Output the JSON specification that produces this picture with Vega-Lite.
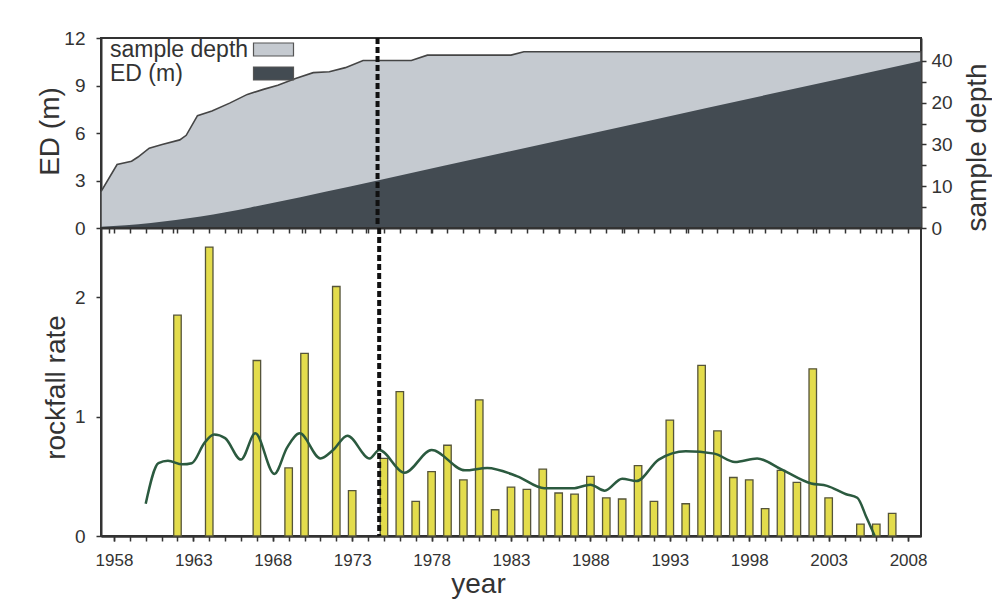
{
  "$schema": "https://vega.github.io/schema/vega-lite/v6.json",
  "padding": {"left": 35, "top": 28, "right": 0, "bottom": 0},
  "background": "white",
  "config": {
    "font": "Liberation Sans",
    "view": {"stroke": "#333333", "strokeWidth": 2},
    "axis": {
      "domainColor": "#333333", "domainWidth": 2,
      "tickColor": "#333333", "tickWidth": 1.5, "tickSize": 5,
      "labelColor": "#333333", "titleColor": "#333333",
      "labelFont": "Liberation Sans", "titleFont": "Liberation Sans",
      "titleFontWeight": "normal", "grid": false,
      "labelFontSize": 19, "titleFontSize": 28
    },
    "legend": {"symbolStrokeColor": "#555555", "symbolStrokeWidth": 1.2}
  },
  "datasets": {
    "depth": [
      {"year": 1957.5, "depth": 8.7}, {"year": 1958.5, "depth": 15.2}, {"year": 1959.4, "depth": 16.0},
      {"year": 1959.8, "depth": 17.0}, {"year": 1960.5, "depth": 19.1}, {"year": 1961.3, "depth": 20.0},
      {"year": 1962.4, "depth": 21.1}, {"year": 1962.8, "depth": 22.2}, {"year": 1963.5, "depth": 26.9},
      {"year": 1964.4, "depth": 28.0}, {"year": 1965.5, "depth": 29.9}, {"year": 1966.6, "depth": 32.0},
      {"year": 1967.6, "depth": 33.2}, {"year": 1968.5, "depth": 34.2}, {"year": 1969.6, "depth": 35.8},
      {"year": 1970.7, "depth": 37.2}, {"year": 1971.7, "depth": 37.4}, {"year": 1972.7, "depth": 38.4},
      {"year": 1973.8, "depth": 40.1}, {"year": 1976.8, "depth": 40.1}, {"year": 1977.8, "depth": 41.4},
      {"year": 1983.0, "depth": 41.4}, {"year": 1983.8, "depth": 42.2}, {"year": 2008.5, "depth": 42.2}
    ],
    "ed": [
      {"year": 1957.5, "ed": 0.08}, {"year": 1960.6, "ed": 0.32}, {"year": 1963.7, "ed": 0.72},
      {"year": 1966.8, "ed": 1.3}, {"year": 1969.9, "ed": 1.95}, {"year": 1973.0, "ed": 2.62},
      {"year": 1974.7, "ed": 3.0}, {"year": 1991.6, "ed": 6.78}, {"year": 2008.5, "ed": 10.55}
    ],
    "marker": [{"year": 1974.7}],
    "rockfall": [
      {"year": 1962, "rate": 1.85}, {"year": 1964, "rate": 2.42}, {"year": 1967, "rate": 1.47},
      {"year": 1969, "rate": 0.57}, {"year": 1970, "rate": 1.53}, {"year": 1972, "rate": 2.09},
      {"year": 1973, "rate": 0.38}, {"year": 1975, "rate": 0.65}, {"year": 1976, "rate": 1.21},
      {"year": 1977, "rate": 0.29}, {"year": 1978, "rate": 0.54}, {"year": 1979, "rate": 0.76},
      {"year": 1980, "rate": 0.47}, {"year": 1981, "rate": 1.14}, {"year": 1982, "rate": 0.22},
      {"year": 1983, "rate": 0.41}, {"year": 1984, "rate": 0.39}, {"year": 1985, "rate": 0.56},
      {"year": 1986, "rate": 0.36}, {"year": 1987, "rate": 0.35}, {"year": 1988, "rate": 0.5},
      {"year": 1989, "rate": 0.32}, {"year": 1990, "rate": 0.31}, {"year": 1991, "rate": 0.59},
      {"year": 1992, "rate": 0.29}, {"year": 1993, "rate": 0.97}, {"year": 1994, "rate": 0.27},
      {"year": 1995, "rate": 1.43}, {"year": 1996, "rate": 0.88}, {"year": 1997, "rate": 0.49},
      {"year": 1998, "rate": 0.47}, {"year": 1999, "rate": 0.23}, {"year": 2000, "rate": 0.55},
      {"year": 2001, "rate": 0.45}, {"year": 2002, "rate": 1.4}, {"year": 2003, "rate": 0.32},
      {"year": 2005, "rate": 0.1}, {"year": 2006, "rate": 0.1}, {"year": 2007, "rate": 0.19}
    ],
    "smooth": [
      {"year": 1960.0, "rate": 0.27}, {"year": 1960.8, "rate": 0.61}, {"year": 1961.4, "rate": 0.63},
      {"year": 1962.3, "rate": 0.6}, {"year": 1962.9, "rate": 0.61}, {"year": 1963.7, "rate": 0.78},
      {"year": 1964.3, "rate": 0.85}, {"year": 1965.0, "rate": 0.82}, {"year": 1966.0, "rate": 0.64},
      {"year": 1966.9, "rate": 0.86}, {"year": 1968.1, "rate": 0.52}, {"year": 1968.9, "rate": 0.74},
      {"year": 1969.7, "rate": 0.86}, {"year": 1971.0, "rate": 0.65}, {"year": 1971.8, "rate": 0.72},
      {"year": 1972.7, "rate": 0.84}, {"year": 1974.1, "rate": 0.65}, {"year": 1974.7, "rate": 0.72},
      {"year": 1976.3, "rate": 0.53}, {"year": 1978.0, "rate": 0.72}, {"year": 1980.1, "rate": 0.55},
      {"year": 1981.5, "rate": 0.57}, {"year": 1983.4, "rate": 0.5}, {"year": 1985.1, "rate": 0.4},
      {"year": 1986.9, "rate": 0.4}, {"year": 1988.0, "rate": 0.43}, {"year": 1988.9, "rate": 0.38},
      {"year": 1990.0, "rate": 0.48}, {"year": 1990.9, "rate": 0.46}, {"year": 1992.3, "rate": 0.64},
      {"year": 1994.0, "rate": 0.71}, {"year": 1995.8, "rate": 0.69}, {"year": 1997.1, "rate": 0.62},
      {"year": 1998.5, "rate": 0.65}, {"year": 2000.0, "rate": 0.56}, {"year": 2001.9, "rate": 0.44},
      {"year": 2002.9, "rate": 0.42}, {"year": 2004.1, "rate": 0.35}, {"year": 2004.8, "rate": 0.32},
      {"year": 2005.4, "rate": 0.15}, {"year": 2005.9, "rate": 0.0}
    ]
  },
  "spacing": 0,
  "bounds": "flush",
  "vconcat": [
    {
      "width": 820,
      "height": 190,
      "layer": [
        {
          "data": {"name": "depth"},
          "mark": {"type": "area", "opacity": 1, "stroke": "#454545", "strokeWidth": 1.6},
          "encoding": {
            "x": {
              "field": "year", "type": "quantitative",
              "scale": {"domain": [1957.5, 2008.5], "nice": false, "zero": false},
              "axis": {
                "values": [1958,1959,1960,1961,1962,1963,1964,1965,1966,1967,1968,1969,1970,1971,1972,1973,1974,1975,1976,1977,1978,1979,1980,1981,1982,1983,1984,1985,1986,1987,1988,1989,1990,1991,1992,1993,1994,1995,1996,1997,1998,1999,2000,2001,2002,2003,2004,2005,2006,2007,2008],
                "labels": false, "title": null
              }
            },
            "y": {
              "field": "depth", "type": "quantitative",
              "scale": {"domain": [0, 45.5], "nice": false},
              "axis": {
                "orient": "right",
                "values": [0, 5, 10, 15, 20, 25, 30, 35, 40],
                "format": "d",
                "labelOverlap": false,
                "labelExpr": "datum.value == 20 ? '30' : datum.value == 30 ? '20' : datum.value % 10 == 0 ? datum.label : ''",
                "labelPadding": 5,
                "title": "sample depth",
                "titleAngle": -90,
                "titleX": 64,
                "titleY": 109,
                "titleAlign": "center",
                "titleBaseline": "alphabetic"
              }
            },
            "color": {
              "datum": "sample depth",
              "scale": {"domain": ["sample depth", "ED (m)"], "range": ["#c5cad0", "#434b52"]},
              "legend": {
                "orient": "none",
                "legendX": 161,
                "legendY": 0,
                "title": null,
                "padding": 0,
                "symbolType": "M-2,-0.65L2,-0.65L2,0.65L-2,0.65Z",
                "symbolSize": 400,
                "symbolOpacity": 1,
                "symbolStrokeColor": "#555555",
                "symbolStrokeWidth": 1.2,
                "labelOffset": -175,
                "labelAlign": "left",
                "labelFontSize": 23,
                "labelColor": "#333333",
                "labelFont": "Liberation Sans",
                "rowPadding": -2,
                "encode": {"symbols": {"update": {"stroke": {"value": "#555555"}, "strokeWidth": {"value": 1.2}}}}
              }
            }
          }
        },
        {
          "data": {"name": "ed"},
          "mark": {"type": "area", "interpolate": "monotone", "opacity": 1},
          "encoding": {
            "x": {"field": "year", "type": "quantitative"},
            "y": {
              "field": "ed", "type": "quantitative",
              "scale": {"domain": [0, 12], "nice": false},
              "axis": {
                "orient": "left",
                "values": [0, 3, 6, 9, 12],
                "format": "d",
                "labelPadding": 11,
                "title": "ED (m)",
                "titleAngle": -90,
                "titleX": -43,
                "titleY": 93,
                "titleAlign": "center",
                "titleBaseline": "alphabetic"
              }
            },
            "color": {"datum": "ED (m)"}
          }
        },
        {
          "data": {"name": "marker"},
          "mark": {"type": "rule", "color": "#111111", "strokeWidth": 4, "strokeDash": [6, 3]},
          "encoding": {"x": {"field": "year", "type": "quantitative"}}
        }
      ],
      "resolve": {"scale": {"y": "independent"}}
    },
    {
      "width": 820,
      "height": 308,
      "layer": [
        {
          "data": {"name": "rockfall"},
          "mark": {"type": "bar", "width": 7.5, "fill": "#e3dc4c", "stroke": "#55543a", "strokeWidth": 1.3},
          "encoding": {
            "x": {
              "field": "year", "type": "quantitative",
              "scale": {"domain": [1957.5, 2008.5], "nice": false, "zero": false},
              "axis": {
                "orient": "bottom",
                "values": [1958,1959,1960,1961,1962,1963,1964,1965,1966,1967,1968,1969,1970,1971,1972,1973,1974,1975,1976,1977,1978,1979,1980,1981,1982,1983,1984,1985,1986,1987,1988,1989,1990,1991,1992,1993,1994,1995,1996,1997,1998,1999,2000,2001,2002,2003,2004,2005,2006,2007,2008],
                "labels": false,
                "title": null
              }
            },
            "y": {
              "field": "rate", "type": "quantitative",
              "scale": {"domain": [0, 2.58], "nice": false},
              "axis": {
                "values": [0, 1, 2],
                "format": "d",
                "labelPadding": 11,
                "title": "rockfall rate",
                "titleAngle": -90,
                "titleX": -37,
                "titleY": 159,
                "titleAlign": "center",
                "titleBaseline": "alphabetic"
              }
            }
          }
        },
        {
          "data": {"name": "smooth"},
          "mark": {"type": "line", "interpolate": "monotone", "color": "#2b5a3f", "strokeWidth": 2.5},
          "encoding": {
            "x": {
              "field": "year", "type": "quantitative",
              "axis": {
                "orient": "bottom",
                "values": [1958, 1963, 1968, 1973, 1978, 1983, 1988, 1993, 1998, 2003, 2008],
                "format": "d",
                "labelOverlap": false,
                "labelFlush": false,
                "labelFontSize": 17,
                "labelPadding": 11,
                "title": "year",
                "titleX": 377,
                "titleY": 56,
                "titleAlign": "center",
                "titleBaseline": "alphabetic"
              }
            },
            "y": {"field": "rate", "type": "quantitative"}
          }
        },
        {
          "data": {"name": "marker"},
          "mark": {"type": "rule", "color": "#111111", "strokeWidth": 4, "strokeDash": [6, 3]},
          "encoding": {
            "x": {
              "field": "year", "type": "quantitative",
              "axis": {
                "orient": "top",
                "values": [1958,1959,1960,1961,1962,1963,1964,1965,1966,1967,1968,1969,1970,1971,1972,1973,1974,1975,1976,1977,1978,1979,1980,1981,1982,1983,1984,1985,1986,1987,1988,1989,1990,1991,1992,1993,1994,1995,1996,1997,1998,1999,2000,2001,2002,2003,2004,2005,2006,2007,2008],
                "labels": false,
                "domain": false,
                "title": null,
                "tickSize": -5
              }
            }
          }
        }
      ],
      "resolve": {"axis": {"x": "independent"}}
    }
  ]
}
